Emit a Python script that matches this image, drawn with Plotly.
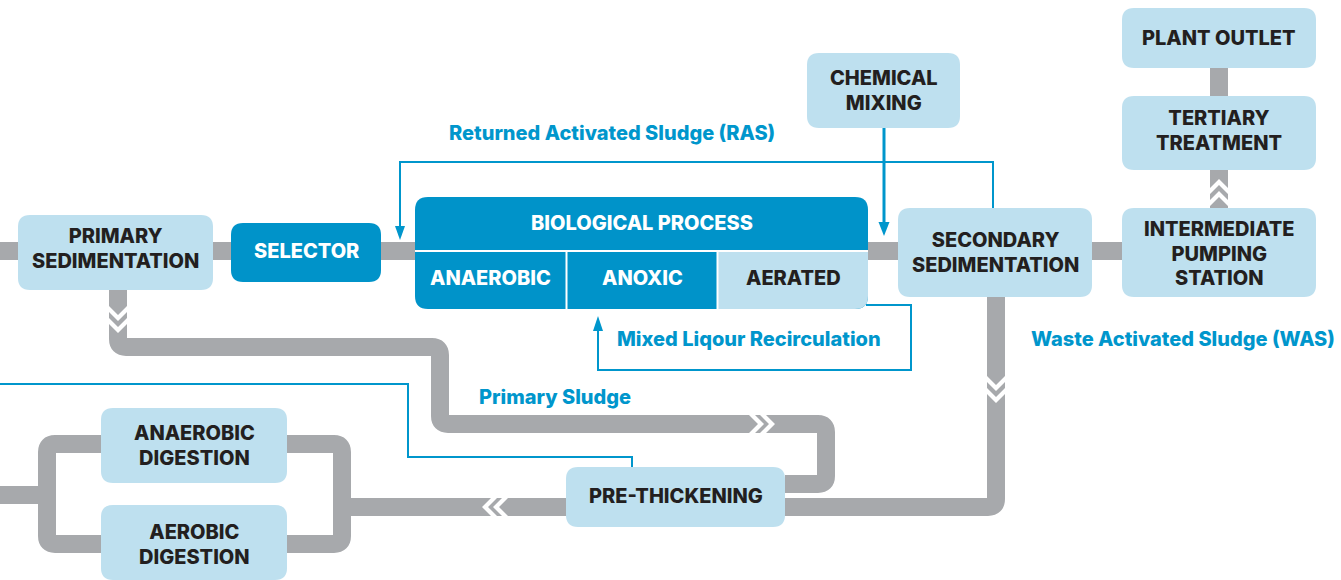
import plotly.graph_objects as go

# ---------------- data (texts) ----------------
node_labels = [
    "PRIMARY\nSEDIMENTATION",
    "SELECTOR",
    "CHEMICAL\nMIXING",
    "SECONDARY\nSEDIMENTATION",
    "INTERMEDIATE\nPUMPING\nSTATION",
    "TERTIARY\nTREATMENT",
    "PLANT OUTLET",
    "ANAEROBIC\nDIGESTION",
    "AEROBIC\nDIGESTION",
    "PRE-THICKENING",
]
bio_title = "BIOLOGICAL PROCESS"
bio_zones = ["ANAEROBIC", "ANOXIC", "AERATED"]
flow_labels = [
    "Returned Activated Sludge (RAS)",
    "Mixed Liqour Recirculation",
    "Primary Sludge",
    "Waste Activated Sludge (WAS)",
]

# ---------------- styling / geometry ----------------
W, H = 1341, 580
PIPE = "#A7A9AC"
DARK = "#0093C9"
LIGHT = "#BEE0EF"
INK = "#231F20"
BLUE = "#0096CC"
FONT = "Inter, Liberation Sans, Arial, sans-serif"

node_boxes = [
    (18, 215, 213, 290),
    (231, 223, 381, 282),
    (807, 53, 960, 128),
    (898, 208, 1092, 297),
    (1122, 208, 1316, 297),
    (1122, 96, 1316, 170),
    (1122, 8, 1316, 68),
    (101, 408, 287, 483),
    (101, 505, 287, 580),
    (566, 467, 785, 527),
]
node_text_y = [248.5, 251, 90, 252, 253, 130, 38, 445.5, 544.5, 496]
node_dark = [False, True, False, False, False, False, False, False, False, False]
bio_box = (415, 197, 868, 309)
bio_split_y = 251
bio_cells = [(415, 566), (567, 717), (718, 868)]
bio_title_y = 223
bio_zone_y = 278
flow_label_pos = [(612, 133), (749, 339), (555, 397), (1183, 339)]

shapes = []


def rr(x0, y0, x1, y1, r=12, c=(1, 1, 1, 1)):
    tl, tr, br, bl = [r if k else 0 for k in c]
    return (f"M {x0+tl} {y0} L {x1-tr} {y0} Q {x1} {y0} {x1} {y0+tr} "
            f"L {x1} {y1-br} Q {x1} {y1} {x1-br} {y1} L {x0+bl} {y1} "
            f"Q {x0} {y1} {x0} {y1-bl} L {x0} {y0+tl} Q {x0} {y0} {x0+tl} {y0} Z")


def poly(pts):
    return "M " + " L ".join(f"{x} {y}" for x, y in pts) + " Z"


def add_fill(path, color):
    shapes.append(dict(type="path", path=path, fillcolor=color,
                       line=dict(width=0), xref="x", yref="y", layer="above"))


def add_stroke(path, color, width):
    shapes.append(dict(type="path", path=path, fillcolor="rgba(0,0,0,0)",
                       line=dict(color=color, width=width), xref="x", yref="y",
                       layer="above"))


def chev(kind, a, c, t=6, d=9):
    if kind == "r":
        return poly([(a, c-d), (a+d, c), (a, c+d), (a+t, c+d), (a+t+d, c), (a+t, c-d)])
    if kind == "l":
        return poly([(a+t+d, c-d), (a+t, c), (a+t+d, c+d), (a+d, c+d), (a, c), (a+d, c-d)])
    if kind == "d":
        return poly([(c-d, a), (c, a+d), (c+d, a), (c+d, a+t), (c, a+t+d), (c-d, a+t)])
    return poly([(c-d, a+d), (c, a), (c+d, a+d), (c+d, a+d+t), (c, a+t), (c-d, a+d+t)])


# ---------------- grey pipes ----------------
pipes = [
    "M 0 251 H 1122",
    "M 1219 68 V 96",
    "M 1219 170 V 208",
    "M 118 290 V 339 Q 118 347 126 347 H 432 Q 440 347 440 355 V 416 Q 440 424 448 424 "
    "H 818 Q 826 424 826 432 V 476 Q 826 484 818 484 H 785",
    "M 996 297 V 499 Q 996 507 988 507 H 342",
    "M 101 444 H 55 Q 47 444 47 452 V 536 Q 47 544 55 544 H 101",
    "M 287 444 H 334 Q 342 444 342 452 V 536 Q 342 544 334 544 H 287",
    "M 0 495 H 47",
]
for p in pipes:
    add_stroke(p, PIPE, 18)

# flow-direction chevrons (white)
for k, a, c in [("d", 306, 118), ("d", 318, 118),
                ("r", 749, 424), ("r", 760, 424),
                ("d", 376, 996), ("d", 388, 996),
                ("l", 482, 507), ("l", 493, 507),
                ("u", 179, 1219), ("u", 191, 1219)]:
    add_fill(chev(k, a, c), "white")

# ---------------- boxes ----------------
for (x0, y0, x1, y1), dk in zip(node_boxes, node_dark):
    add_fill(rr(x0, y0, x1, y1, 12), DARK if dk else LIGHT)

bx0, by0, bx1, by1 = bio_box
add_fill(rr(bx0, by0, bx1, by1, 13), DARK)
cx0, cx1 = bio_cells[2]
add_fill(rr(cx0, bio_split_y, cx1, by1, 13, (0, 0, 1, 0)), LIGHT)
add_stroke(f"M {bx0} {bio_split_y} H {bx1}", "white", 2)
add_stroke(f"M 566.5 {bio_split_y} V {by1}", "white", 2)
add_stroke(f"M 717.5 {bio_split_y} V {by1}", "white", 2)

# ---------------- blue flow lines ----------------
add_stroke("M 993 208 V 162 H 400 V 228", BLUE, 2)
add_fill(poly([(395, 226), (405, 226), (400, 240)]), BLUE)
add_stroke("M 884 128 V 224", BLUE, 3)
add_fill(poly([(878.5, 222), (889.5, 222), (884, 236)]), BLUE)
add_stroke("M 866 305 H 911 V 370 H 598 V 329", BLUE, 2)
add_fill(poly([(593, 331), (603, 331), (598, 316)]), BLUE)
add_stroke("M 0 384 H 408 V 457 H 632 V 467", BLUE, 2)

# ---------------- text ----------------
annotations = []
LINE_GAP = 24.5  # px between text lines


def add_text(text, x, y, color, size=20, weight=800):
    lines = text.split("\n")
    # base font size sets the line spacing (1.3em); spans carry the glyph size
    base = LINE_GAP / 1.3
    html = "<br>".join(f"<span style='font-size:{size}px'>{ln}</span>" for ln in lines)
    annotations.append(dict(x=x, y=y, xref="x", yref="y", text=html,
                            showarrow=False, xanchor="center", yanchor="middle",
                            align="center",
                            font=dict(family=FONT, size=base, color=color,
                                      weight=weight)))


for lab, (x0, y0, x1, y1), ty, dk in zip(node_labels, node_boxes, node_text_y, node_dark):
    add_text(lab, (x0 + x1) / 2, ty, "white" if dk else INK)

add_text(bio_title, (bx0 + bx1) / 2, bio_title_y, "white")
for z, (a, b), col in zip(bio_zones, bio_cells, ["white", "white", INK]):
    add_text(z, (a + b) / 2, bio_zone_y, col)

for lab, (x, y) in zip(flow_labels, flow_label_pos):
    add_text(lab, x, y, BLUE, size=20)

fig = go.Figure()
fig.update_layout(
    width=W, height=H, margin=dict(l=0, r=0, t=0, b=0),
    paper_bgcolor="white", plot_bgcolor="white",
    xaxis=dict(range=[0, W], visible=False, fixedrange=True),
    yaxis=dict(range=[H, 0], visible=False, fixedrange=True),
    shapes=shapes, annotations=annotations, showlegend=False,
    hovermode=False, dragmode=False,
)
fig.write_html("out.html", config={"displayModeBar": False},
               post_script="document.body.style.margin='0px';")
